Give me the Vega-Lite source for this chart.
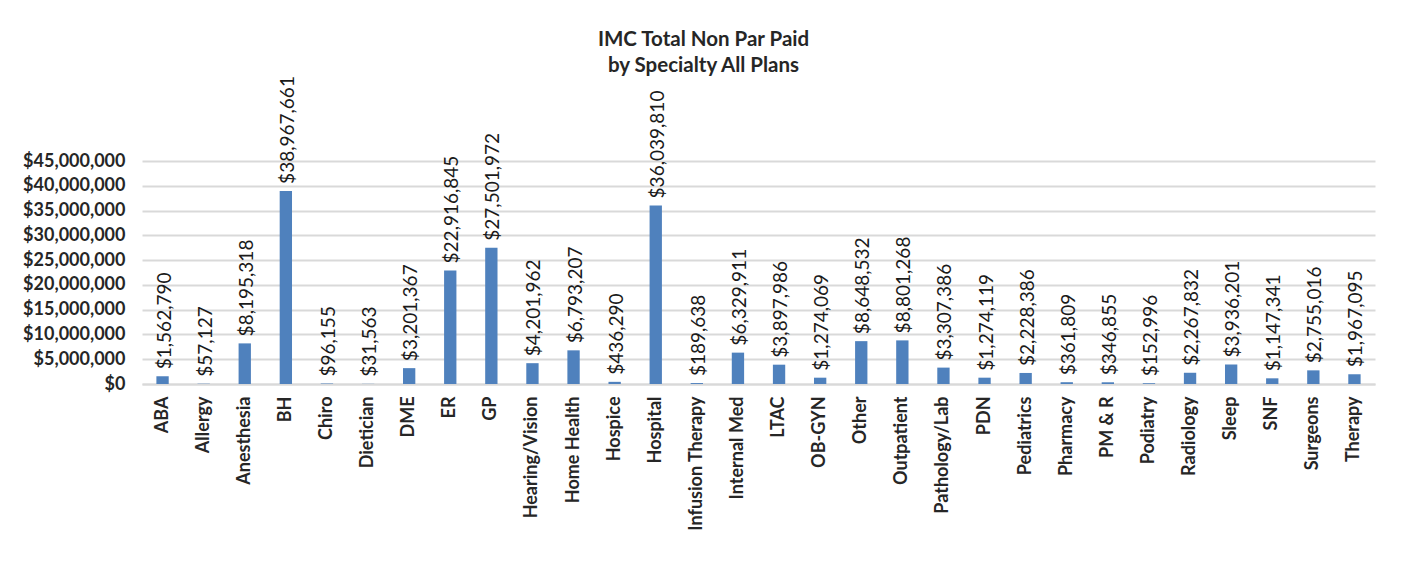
{
  "$schema": "https://vega.github.io/schema/vega-lite/v6.json",
  "width": 1233,
  "height": 223,
  "autosize": {"type": "none"},
  "padding": {"left": 142, "top": 161, "right": 28, "bottom": 202},
  "background": "white",
  "title": {
    "text": ["IMC Total Non Par Paid", "by Specialty All Plans"],
    "font": "Lato",
    "fontSize": 20.5,
    "fontWeight": "bold",
    "color": "#262626",
    "anchor": "middle",
    "dx": -55,
    "dy": 10,
    "lineHeight": 26,
    "offset": 10
  },
  "data": {
    "values": [
      {"specialty": "ABA", "paid": 1562790},
      {"specialty": "Allergy", "paid": 57127},
      {"specialty": "Anesthesia", "paid": 8195318},
      {"specialty": "BH", "paid": 38967661},
      {"specialty": "Chiro", "paid": 96155},
      {"specialty": "Dietician", "paid": 31563},
      {"specialty": "DME", "paid": 3201367},
      {"specialty": "ER", "paid": 22916845},
      {"specialty": "GP", "paid": 27501972},
      {"specialty": "Hearing/Vision", "paid": 4201962},
      {"specialty": "Home Health", "paid": 6793207},
      {"specialty": "Hospice", "paid": 436290},
      {"specialty": "Hospital", "paid": 36039810},
      {"specialty": "Infusion Therapy", "paid": 189638},
      {"specialty": "Internal Med", "paid": 6329911},
      {"specialty": "LTAC", "paid": 3897986},
      {"specialty": "OB-GYN", "paid": 1274069},
      {"specialty": "Other", "paid": 8648532},
      {"specialty": "Outpatient", "paid": 8801268},
      {"specialty": "Pathology/Lab", "paid": 3307386},
      {"specialty": "PDN", "paid": 1274119},
      {"specialty": "Pediatrics", "paid": 2228386},
      {"specialty": "Pharmacy", "paid": 361809},
      {"specialty": "PM & R", "paid": 346855},
      {"specialty": "Podiatry", "paid": 152996},
      {"specialty": "Radiology", "paid": 2267832},
      {"specialty": "Sleep", "paid": 3936201},
      {"specialty": "SNF", "paid": 1147341},
      {"specialty": "Surgeons", "paid": 2755016},
      {"specialty": "Therapy", "paid": 1967095}
    ]
  },
  "encoding": {
    "x": {
      "field": "specialty",
      "type": "nominal",
      "sort": null,
      "scale": {"paddingInner": 0.7, "paddingOuter": 0.35},
      "axis": {
        "title": null,
        "labelAngle": -90,
        "labelFont": "Lato",
        "labelFontSize": 18,
        "labelFontWeight": "bold",
        "labelColor": "#262626",
        "labelPadding": 12,
        "ticks": false,
        "domainColor": "#d9d9d9",
        "domainWidth": 2,
        "grid": false
      }
    },
    "y": {
      "field": "paid",
      "type": "quantitative",
      "scale": {"domain": [0, 45000000], "nice": false},
      "axis": {
        "title": null,
        "values": [0, 5000000, 10000000, 15000000, 20000000, 25000000, 30000000, 35000000, 40000000, 45000000],
        "format": "$,.0f",
        "labelFont": "Lato",
        "labelFontSize": 18,
        "labelFontWeight": "bold",
        "labelColor": "#262626",
        "labelPadding": 17,
        "ticks": false,
        "domain": false,
        "grid": true,
        "gridColor": "#d9d9d9",
        "gridWidth": 2
      }
    }
  },
  "layer": [
    {"mark": {"type": "bar", "color": "#4f81bd"}},
    {
      "mark": {
        "type": "text",
        "angle": 270,
        "align": "left",
        "baseline": "middle",
        "dx": 7,
        "dy": 2,
        "font": "Lato",
        "fontSize": 19,
        "color": "#1a1a1a"
      },
      "encoding": {
        "text": {"field": "paid", "type": "quantitative", "format": "$,.0f"}
      }
    }
  ],
  "config": {"view": {"stroke": null}}
}
